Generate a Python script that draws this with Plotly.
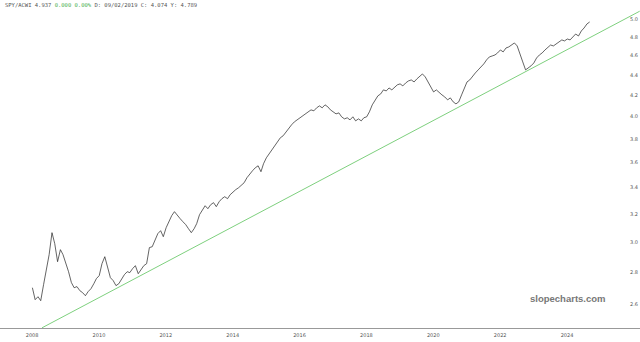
import plotly.graph_objects as go
import pandas as pd
import math

# SPY/ACWI monthly ratio, starting April 2008
start_month = "2008-04-01"
ratio = [
    2.703, 2.630, 2.648, 2.624, 2.722, 2.830, 2.916, 3.066, 2.990,
    2.869, 2.949, 2.916, 2.863, 2.804, 2.735, 2.703, 2.710, 2.685, 2.673, 2.654, 2.679,
    2.697, 2.728, 2.760, 2.779, 2.856, 2.902, 2.830, 2.766, 2.747, 2.716, 2.728, 2.760,
    2.785, 2.804, 2.798, 2.824, 2.843, 2.791, 2.817, 2.843, 2.856, 2.963, 2.969, 3.017,
    3.059, 3.080, 3.038, 3.101, 3.144, 3.188, 3.217, 3.188, 3.166, 3.144, 3.123, 3.094,
    3.066, 3.094, 3.130, 3.195, 3.232, 3.261, 3.239, 3.269, 3.284, 3.254, 3.291, 3.314,
    3.329, 3.314, 3.344, 3.367, 3.383, 3.398, 3.414, 3.437, 3.477, 3.509, 3.533, 3.557,
    3.573, 3.525, 3.590, 3.639, 3.673, 3.707, 3.741, 3.775, 3.810, 3.827, 3.862, 3.898,
    3.924, 3.951, 3.969, 3.988, 4.006, 4.024, 4.043, 4.061, 4.052, 4.080, 4.098, 4.080,
    4.108, 4.089, 4.061, 4.043, 4.024, 4.033, 3.997, 3.978, 3.988, 3.969, 3.997, 3.960,
    3.978, 3.960, 3.988, 3.997, 4.043, 4.108, 4.155, 4.193, 4.212, 4.251, 4.241, 4.270,
    4.251, 4.280, 4.300, 4.310, 4.290, 4.319, 4.339, 4.349, 4.329, 4.359, 4.389, 4.409,
    4.379, 4.329, 4.270, 4.231, 4.251, 4.222, 4.203, 4.183, 4.155, 4.174, 4.136, 4.117,
    4.136, 4.203, 4.270, 4.329, 4.349, 4.389, 4.419, 4.450, 4.480, 4.511, 4.553, 4.584,
    4.594, 4.605, 4.626, 4.658, 4.637, 4.679, 4.690, 4.711, 4.733, 4.701, 4.605, 4.532,
    4.450, 4.470, 4.491, 4.521, 4.573, 4.605, 4.626, 4.658, 4.690, 4.711, 4.701, 4.722,
    4.744, 4.766, 4.755, 4.776, 4.766, 4.798, 4.831, 4.809, 4.865, 4.898, 4.943, 4.966,
]
dates = pd.date_range(start_month, periods=len(ratio), freq="MS")

# trend line endpoints
trend_dates = ["2008-07-15", "2026-06-01"]
trend_values = [2.466, 5.09]

x_tick_vals = ["2008-01-01", "2010-01-01", "2012-01-01", "2014-01-01", "2016-01-01",
               "2018-01-01", "2020-01-01", "2022-01-01", "2024-01-01"]
x_tick_text = ["2008", "2010", "2012", "2014", "2016", "2018", "2020", "2022", "2024"]
y_tick_vals = [2.6, 2.8, 3.0, 3.2, 3.4, 3.6, 3.8, 4.0, 4.2, 4.4, 4.6, 4.8, 5.0]
y_tick_text = ["2.6", "2.8", "3.0", "3.2", "3.4", "3.6", "3.8", "4.0", "4.2", "4.4", "4.6", "4.8", "5.0"]

fig = go.Figure()
fig.add_trace(go.Scatter(x=trend_dates, y=trend_values, mode="lines",
                         line=dict(color="#7ed07e", width=1), hoverinfo="skip"))
fig.add_trace(go.Scatter(x=dates, y=ratio, mode="lines",
                         line=dict(color="#222222", width=0.7)))

fig.update_layout(
    width=640, height=342,
    margin=dict(l=0, r=0, t=0, b=14),
    paper_bgcolor="white", plot_bgcolor="white",
    showlegend=False,
    xaxis=dict(
        type="date", range=["2007-04-13", "2026-06-04"],
        tickvals=x_tick_vals, ticktext=x_tick_text,
        showgrid=False, zeroline=False, automargin=False,
        showline=True, linecolor="#999999", linewidth=1,
        ticks="", tickfont=dict(family="DejaVu Sans", size=5, color="#555555"),
        ticklabelshift=8, ticklabelstandoff=2,
    ),
    yaxis=dict(
        type="log", side="right", automargin=False,
        anchor="free", position=629 / 640,
        range=[math.log10(2.465), math.log10(5.222)],
        tickvals=y_tick_vals, ticktext=y_tick_text,
        showgrid=False, zeroline=False, showline=False,
        ticks="", ticklabelposition="outside",
        tickfont=dict(family="DejaVu Sans", size=5, color="#555555"),
    ),
    annotations=[
        dict(xref="paper", yref="paper", x=0.005, y=1 - 5 / 328, xanchor="left", yanchor="middle",
             showarrow=False,
             text="SPY/ACWI 4.937 <span style='color:#4caf50'>0.000 0.00%</span> D: 09/02/2019 C: 4.074 Y: 4.789",
             font=dict(family="DejaVu Sans Mono", size=5.5, color="#555555")),
        dict(xref="paper", yref="paper", x=608 / 640, y=(328 - 298) / 328, xanchor="right", yanchor="middle",
             showarrow=False, text="<b>slopecharts.com</b>",
             font=dict(family="Liberation Sans", size=9.5, color="#777777")),
    ],
)

fig.write_html("out.html")
